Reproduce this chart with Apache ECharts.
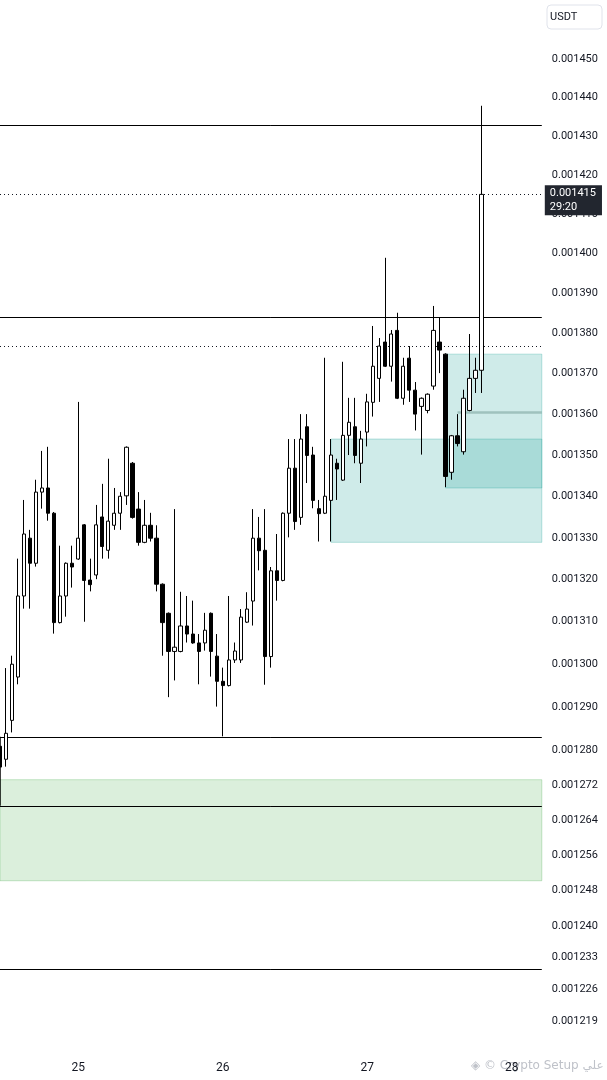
<!DOCTYPE html>
<html>
<head>
<meta charset="utf-8">
<script src="https://cdn.jsdelivr.net/npm/echarts@6/dist/echarts.min.js"></script>
<style>
html,body{margin:0;padding:0;background:#fff;}
#c{width:607px;height:1080px;}
</style>
</head>
<body>
<div id="c"></div>
<script>
// hourly candles, 24th 11:00 .. 27th 19:00 (first category = hour -13 relative to 25th 00:00)
const firstHour = -13;
const totalSlots = 91;

const openP = [0.0012809,0.0012779,0.0012869,0.0012970,0.0013161,0.0013299,0.0013239,0.0013410,0.0013420,0.0013359,
0.0013098,0.0013161,0.0013239,0.0013249,0.0013331,0.0013199,0.0013211,0.0013350,0.0013270,0.0013330,
0.0013359,0.0013401,0.0013480,0.0013369,0.0013289,0.0013330,0.0013299,0.0013189,0.0013120,0.0013030,
0.0013030,0.0013090,0.0013071,0.0013050,0.0013050,0.0013120,0.0013019,0.0012960,0.0012950,0.0013010,
0.0013010,0.0013099,0.0013149,0.0013299,0.0013270,0.0013018,0.0013221,0.0013198,0.0013359,0.0013468,
0.0013349,0.0013569,0.0013500,0.0013370,0.0013359,0.0013390,0.0013480,0.0013439,0.0013548,0.0013569,
0.0013480,0.0013556,0.0013629,0.0013688,0.0013778,0.0013718,0.0013807,0.0013639,0.0013738,0.0013659,
0.0013619,0.0013609,0.0013669,0.0013778,0.0013748,0.0013458,0.0013547,0.0013508,0.0013609,0.0013688,
0.0013708];
const closeP = [0.0012761,0.0012839,0.0013000,0.0013161,0.0013309,0.0013239,0.0013410,0.0013420,0.0013359,0.0013098,
0.0013161,0.0013239,0.0013230,0.0013299,0.0013198,0.0013188,0.0013331,0.0013279,0.0013340,0.0013359,
0.0013400,0.0013519,0.0013349,0.0013289,0.0013330,0.0013299,0.0013189,0.0013098,0.0013030,0.0013040,
0.0013090,0.0013071,0.0013050,0.0013030,0.0013080,0.0013030,0.0012960,0.0012950,0.0013010,0.0013031,
0.0013111,0.0013130,0.0013299,0.0013269,0.0013018,0.0013221,0.0013198,0.0013359,0.0013468,0.0013339,
0.0013539,0.0013499,0.0013390,0.0013358,0.0013400,0.0013500,0.0013466,0.0013548,0.0013580,0.0013499,
0.0013539,0.0013630,0.0013718,0.0013768,0.0013718,0.0013798,0.0013639,0.0013718,0.0013659,0.0013600,
0.0013639,0.0013649,0.0013807,0.0013758,0.0013448,0.0013547,0.0013528,0.0013639,0.0013688,0.0013708,
0.0014150];
const lowP = [0.0012755,0.0012762,0.0012841,0.0012953,0.0013131,0.0013131,0.0013231,0.0013370,0.0013341,0.0013072,
0.0013096,0.0013112,0.0013181,0.0013247,0.0013100,0.0013172,0.0013201,0.0013250,0.0013250,0.0013319,
0.0013319,0.0013379,0.0013346,0.0013281,0.0013287,0.0013291,0.0013172,0.0013020,0.0012923,0.0012962,
0.0013028,0.0013051,0.0013048,0.0012953,0.0013032,0.0012971,0.0012901,0.0012832,0.0012948,0.0013003,
0.0013003,0.0013097,0.0013091,0.0013222,0.0012952,0.0012992,0.0013150,0.0013196,0.0013301,0.0013319,
0.0013331,0.0013432,0.0013371,0.0013291,0.0013357,0.0013291,0.0013391,0.0013437,0.0013500,0.0013480,
0.0013432,0.0013521,0.0013594,0.0013630,0.0013716,0.0013680,0.0013637,0.0013623,0.0013630,0.0013560,
0.0013501,0.0013602,0.0013660,0.0013701,0.0013422,0.0013440,0.0013521,0.0013501,0.0013607,0.0013652,
0.0013652];
const highP = [0.0012815,0.0012991,0.0013020,0.0013250,0.0013391,0.0013319,0.0013440,0.0013510,0.0013520,0.0013362,
0.0013281,0.0013241,0.0013281,0.0013630,0.0013333,0.0013250,0.0013379,0.0013430,0.0013491,0.0013420,
0.0013410,0.0013521,0.0013483,0.0013410,0.0013391,0.0013360,0.0013330,0.0013191,0.0013122,0.0013369,
0.0013171,0.0013161,0.0013150,0.0013071,0.0013121,0.0013122,0.0013071,0.0012992,0.0013161,0.0013051,
0.0013130,0.0013170,0.0013369,0.0013350,0.0013369,0.0013230,0.0013309,0.0013361,0.0013539,0.0013539,
0.0013600,0.0013600,0.0013520,0.0013391,0.0013739,0.0013539,0.0013491,0.0013729,0.0013640,0.0013640,
0.0013559,0.0013650,0.0013818,0.0013788,0.0013989,0.0013808,0.0013851,0.0013739,0.0013768,0.0013679,
0.0013641,0.0013651,0.0013868,0.0013839,0.0013750,0.0013549,0.0013600,0.0013660,0.0013798,0.0013739,
0.0014378];

const priceTicks = [0.001450,0.001440,0.001430,0.001420,0.001410,0.001400,0.001390,0.001380,0.001370,0.001360,
0.001350,0.001340,0.001330,0.001320,0.001310,0.001300,0.001290,0.001280,0.001272,0.001264,0.001256,0.001248,
0.001240,0.001233,0.001226,0.001219];
const yMin = 0.0012126, yMax = 0.0014655;

const currentPrice = 0.001415;
const countdown = '29:20';
const solidLevels = [0.0014328, 0.0013841, 0.0012831, 0.0012672, 0.0012303];
const dottedLevel = 0.0013768;
const boxTop = 0.0012831, boxBottom = 0.0012672;
const greyLine = {fromHour: 63, value: 0.0013605};
const tealZones = [
  {fromHour: 42, top: 0.0013539, bottom: 0.0013289},
  {fromHour: 61, top: 0.0013748, bottom: 0.0013420}
];
const greenZone = {top: 0.0012732, bottom: 0.0012502};

// categories (hour slots)
const cats = [];
for (let i = 0; i < totalSlots; i++) {
  const h = firstHour + i;
  const day = 25 + Math.floor(h / 24);
  const hr = ((h % 24) + 24) % 24;
  cats.push(day + ' ' + (hr < 10 ? '0' : '') + hr + ':00');
}
const idx = h => h - firstHour;
const candles = openP.map((o, i) => [o, closeP[i], lowP[i], highP[i]]);

const chart = echarts.init(document.getElementById('c'), null, {renderer: 'canvas'});
const lastIdx = totalSlots - 1;

const seg = (x0, x1, v, lineStyle) => [{coord: [x0, v], lineStyle: lineStyle}, {coord: [x1, v]}];
const markLineData = solidLevels.map(v => seg(0, lastIdx, v, {color: '#000', width: 1, type: 'solid'}));
markLineData.push(seg(0, lastIdx, dottedLevel, {color: '#131722', width: 1, type: [1, 3]}));
markLineData.push([
  {coord: [0, boxTop], lineStyle: {color: '#000', width: 1.5, type: 'solid'}},
  {coord: [0, boxBottom]}
]);
markLineData.push(seg(idx(greyLine.fromHour), lastIdx, greyLine.value,
  {color: 'rgba(120,160,155,0.55)', width: 2.5, type: 'solid'}));
markLineData.push(seg(0, lastIdx, currentPrice, {color: '#131722', width: 1, type: [1, 3]}));

const markAreaData = tealZones.map(z => [
  {xAxis: idx(z.fromHour), yAxis: z.top, itemStyle: {color: 'rgba(38,166,154,0.22)', borderColor: 'rgba(38,166,154,0.30)', borderWidth: 1}},
  {xAxis: lastIdx, yAxis: z.bottom}
]);
markAreaData.push([
  {xAxis: 0, yAxis: greenZone.top, itemStyle: {color: 'rgba(76,175,80,0.2)', borderColor: 'rgba(76,175,80,0.3)', borderWidth: 1}},
  {xAxis: lastIdx, yAxis: greenZone.bottom}
]);

chart.setOption({
  animation: false,
  backgroundColor: '#fff',
  grid: {left: 0, right: 65.2, top: 0, bottom: 30, containLabel: false},
  xAxis: {
    type: 'category', data: cats, boundaryGap: false,
    axisLine: {show: false}, axisTick: {show: false}, splitLine: {show: false},
    axisLabel: {
      interval: (i, v) => v.endsWith(' 00:00'),
      formatter: v => v.split(' ')[0],
      color: '#131722', fontSize: 12, fontFamily: 'Roboto', margin: 12
    }
  },
  yAxis: [{
    type: 'log', logBase: 10, min: yMin, max: yMax, position: 'right',
    axisLine: {show: false}, axisTick: {show: false}, splitLine: {show: false}, axisLabel: {show: false}
  }, {
    type: 'value', min: Math.log(yMin), max: Math.log(yMax), position: 'right',
    axisLine: {show: false}, axisTick: {show: false}, splitLine: {show: false},
    axisLabel: {
      customValues: priceTicks.map(v => Math.log(v)),
      formatter: v => Math.exp(v).toFixed(6),
      color: '#131722', fontSize: 11, fontFamily: 'Roboto', margin: 10
    }
  }],
  series: [{
    type: 'candlestick',
    yAxisIndex: 0,
    data: candles,
    barWidth: 3.7,
    itemStyle: {color: '#ffffff', color0: '#000000', borderColor: '#000000', borderColor0: '#000000', borderWidth: 1},
    markArea: {silent: true, data: markAreaData},
    markLine: {silent: true, symbol: 'none', z: 1, label: {show: false}, data: markLineData}
  }],
  graphic: [
    {type: 'rect', shape: {x: 547, y: 5, width: 55, height: 24, r: 4}, style: {fill: '#fff', stroke: '#e0e3eb', lineWidth: 1}},
    {type: 'text', x: 550, y: 17, style: {text: 'USDT', fill: '#131722', font: '11px Roboto', verticalAlign: 'middle'}},
    {type: 'text', x: 471, y: 1066, z: 0, style: {text: '◈ © Crypto Setup علي', fill: '#bfc2c9', font: '12px "DejaVu Sans", Roboto', verticalAlign: 'middle'}}
  ]
});

// current price badge, placed from the axis scales
const py = chart.convertToPixel({yAxisIndex: 0}, currentPrice);
const px = chart.convertToPixel({xAxisIndex: 0}, lastIdx);
chart.setOption({
  graphic: [{
    id: 'priceBadge', type: 'text', z: 100, x: px + 3, y: py - 9,
    style: {
      text: currentPrice.toFixed(6) + '\n' + countdown,
      fill: '#ffffff', backgroundColor: '#22262f',
      font: '11px Roboto', lineHeight: 14, padding: [1, 6, 1, 5], verticalAlign: 'top'
    }
  }]
});
</script>
</body>
</html>
